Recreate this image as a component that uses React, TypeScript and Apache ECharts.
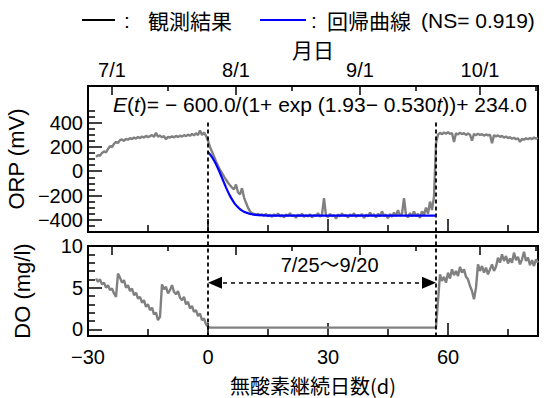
import React, { useEffect, useRef } from "react";
import * as echarts from "echarts";

const FONT = "'Liberation Sans', Arial, 'Noto Sans CJK JP', sans-serif";
const CJK = "'Noto Sans CJK JP', 'Liberation Sans', sans-serif";

const DAY_MIN = -30;
const DAY_MAX = 82.5;
const dayLabelValues = [-30, 0, 30, 60];
const dayMajorTicks = [-30, 0, 30, 60];
const dayMinorTicks = [-15, 15, 45, 75];
const monthMajorDays = [-24, 7, 38, 68];
const monthLabels = ["7/1", "8/1", "9/1", "10/1"];
const monthMinorDays = [-10, 21, 52, 82];

const ORP_MIN = -500;
const ORP_MAX = 700;
const orpLabelValues = [-400, -200, 0, 200, 400];
const orpMinorValues = [-450, -350, -300, -250, -150, -100, -50, 50, 100, 150, 250, 300, 350, 450, 500];

const DO_MIN = -0.8;
const DO_MAX = 10;
const doLabelValues = [0, 5, 10];
const doMinorValues = [1, 2, 3, 4, 6, 7, 8, 9];

const anoxicStartDay = 0;
const anoxicEndDay = 57;
const dottedTopORP = 400;
const arrowFromDay = 1.75;
const arrowToDay = 55.25;
const arrowDO = 5.6;
const periodLabel = "7/25～9/20";
const periodLabelDay = 30.4;
const periodLabelDO = 7.7;

const orpObserved: number[][] = [
  [-28, 118], [-27.5, 132], [-27, 126], [-26.5, 150], [-26, 162], [-25.5, 155], [-25, 182], [-24.5, 205], [-24, 198],
  [-23.5, 225], [-23, 240], [-22.5, 232], [-22, 255], [-21.5, 262], [-21, 248], [-20.5, 266], [-20, 258],
  [-19.5, 272], [-19, 264], [-18.5, 276], [-18, 268], [-17.5, 281], [-17, 272], [-16.5, 285], [-16, 276],
  [-15.5, 290], [-15, 280], [-14.5, 288], [-14, 296], [-13.5, 282], [-13, 315], [-12.5, 284], [-12, 292],
  [-11.5, 278], [-11, 288], [-10.5, 262], [-10, 282], [-9.5, 276], [-9, 286], [-8.5, 278], [-8, 290],
  [-7.5, 281], [-7, 292], [-6.5, 284], [-6, 296], [-5.5, 288], [-5, 300], [-4.5, 291], [-4, 306],
  [-3.5, 294], [-3, 312], [-2.5, 296], [-2, 335], [-1.5, 298], [-1, 318], [-0.5, 290], [0, 250],
  [0.5, 200], [1, 160], [1.5, 120], [2, 80], [2.5, 45], [3, 10], [3.5, -15], [4, -45],
  [4.5, -70], [5, -95], [5.5, -115], [6, -135], [6.5, -150], [7, -110], [7.5, -175], [8, -190],
  [8.5, -140], [9, -215], [9.5, -260], [10, -300], [10.5, -330], [11, -345], [11.5, -352], [12, -358],
  [12.5, -350], [13, -362], [13.5, -355], [14, -366],
  [14.5, -352], [15, -370], [15.5, -358], [16, -375], [16.5, -355], [17, -368], [17.5, -348], [18, -372],
  [18.5, -360], [19, -380], [19.5, -356], [20, -366], [20.5, -345], [21, -370], [21.5, -362], [22, -384],
  [22.5, -358], [23, -368], [23.5, -350], [24, -376], [24.5, -362], [25, -372], [25.5, -354], [26, -380],
  [26.5, -360], [27, -368], [27.5, -345], [28, -374], [28.5, -358], [29, -222], [29.5, -365], [30, -378],
  [30.5, -352], [31, -370], [31.5, -360], [32, -390], [32.5, -356], [33, -372], [33.5, -348], [34, -366],
  [34.5, -360], [35, -382], [35.5, -354], [36, -370], [36.5, -346], [37, -376], [37.5, -360], [38, -368],
  [38.5, -352], [39, -385], [39.5, -358], [40, -372], [40.5, -340], [41, -366], [41.5, -355], [42, -380],
  [42.5, -350], [43, -372], [43.5, -330], [44, -368], [44.5, -356], [45, -388], [45.5, -352], [46, -374],
  [46.5, -340], [47, -370], [47.5, -320], [48, -366], [48.5, -350], [49, -222], [49.5, -362], [50, -378],
  [50.5, -345], [51, -372], [51.5, -332], [52, -370], [52.5, -350], [53, -384], [53.5, -330], [54, -360],
  [54.5, -300], [55, -350], [55.5, -250], [56, -320], [56.5, -210], [57, 230], [57.5, 300], [58, 315],
  [58.5, 304], [59, 318], [59.5, 308], [60, 320], [60.5, 306], [61, 314], [61.5, 240], [62, 312],
  [62.5, 302], [63, 316], [63.5, 305], [64, 312], [64.5, 298], [65, 310], [65.5, 300], [66, 250],
  [66.5, 306], [67, 296], [67.5, 308], [68, 298], [68.5, 304], [69, 292], [69.5, 302], [70, 294],
  [70.5, 300], [71, 230], [71.5, 296], [72, 286], [72.5, 294], [73, 282], [73.5, 290], [74, 276],
  [74.5, 285], [75, 272], [75.5, 280], [76, 266], [76.5, 275], [77, 262], [77.5, 270], [78, 240],
  [78.5, 266], [79, 258], [79.5, 270], [80, 262], [80.5, 272], [81, 264], [81.5, 276], [82, 268], [82.5, 274],
];

const orpRegression: number[][] = [
  [0, 158], [0.5, 138.5], [1, 115], [1.5, 88], [2, 57], [2.5, 22], [3, -15.5], [3.5, -55], [4, -94],
  [4.5, -133], [5, -170], [5.5, -203], [6, -232], [6.5, -258], [7, -279], [7.5, -297], [8, -312],
  [8.5, -324], [9, -333], [9.5, -340], [10, -346], [10.5, -351], [11, -354], [11.5, -357], [12, -359],
  [13, -362], [14, -363.5], [15, -364.6], [16, -365], [18, -365.6], [20, -365.8], [56.8, -366],
];

const doObserved: number[][] = [
  [-28, 6.1], [-27.5, 5.7], [-27, 6.0], [-26.5, 5.4], [-26, 5.6], [-25.5, 5.0], [-25, 5.3], [-24.5, 4.7],
  [-24, 4.9], [-23.5, 4.3], [-23, 3.9], [-22.5, 6.7], [-22, 6.2], [-21.5, 5.6], [-21, 5.9], [-20.5, 5.0],
  [-20, 5.3], [-19.5, 4.6], [-19, 4.9], [-18.5, 4.1], [-18, 4.4], [-17.5, 3.7], [-17, 3.9], [-16.5, 3.2],
  [-16, 3.5], [-15.5, 2.7], [-15, 3.0], [-14.5, 2.3], [-14, 2.6], [-13.5, 1.8], [-13, 2.0], [-12.5, 1.1],
  [-12, 1.5], [-11.5, 5.4], [-11, 4.8], [-10.5, 5.1], [-10, 4.3], [-9.5, 4.7], [-9, 5.3], [-8.5, 4.5],
  [-8, 4.2], [-7.5, 4.6], [-7, 3.8], [-6.5, 3.5], [-6, 3.9], [-5.5, 3.0], [-5, 3.3], [-4.5, 2.5],
  [-4, 2.8], [-3.5, 2.1], [-3, 2.3], [-2.5, 1.6], [-2, 1.9], [-1.5, 1.1], [-1, 1.3], [-0.5, 0.6],
  [0, 0.3], [0.5, 0.2], [56.5, 0.2], [57, 0.3],
  [57.5, 3.4], [58, 6.6], [58.5, 5.8], [59, 6.3], [59.5, 5.6], [60, 6.8], [60.5, 6.1], [61, 7.2],
  [61.5, 6.5], [62, 7.0], [62.5, 6.4], [63, 7.5], [63.5, 6.8], [64, 7.2], [64.5, 6.3], [65, 6.0],
  [65.5, 5.2], [66, 4.6], [66.5, 3.6], [67, 5.0], [67.5, 7.8], [68, 7.0], [68.5, 7.6], [69, 6.8],
  [69.5, 7.4], [70, 6.6], [70.5, 7.2], [71, 7.8], [71.5, 7.0], [72, 7.5], [72.5, 8.6], [73, 8.0],
  [73.5, 9.0], [74, 8.2], [74.5, 8.8], [75, 7.9], [75.5, 8.5], [76, 8.0], [76.5, 9.2], [77, 8.3],
  [77.5, 8.7], [78, 7.8], [78.5, 8.4], [79, 9.3], [79.5, 8.2], [80, 8.6], [80.5, 7.7], [81, 8.3],
  [81.5, 7.6], [82, 8.4], [82.5, 8.0],
];

const GRAY = "#808080";
const fmtNum = (v: number) => (v < 0 ? "\u2212" + Math.abs(v) : String(v));
const tickLine = { color: "#000", width: 1.5 };
const labelStyle = { fontSize: 20, lineHeight: 20, color: "#000", fontFamily: FONT };

function customAxis(kind: "x" | "y", gridIndex: number, position: string, min: number, max: number,
  ticks: number[], length: number, labels: number[] | null, formatter: any, margin: number, extra: any = {}) {
  return {
    type: "value", gridIndex, position, min, max,
    axisLine: { show: false, onZero: false },
    axisTick: { show: true, inside: true, length, lineStyle: tickLine, customValues: ticks },
    axisLabel: labels
      ? { show: true, customValues: labels, formatter, margin, ...labelStyle }
      : { show: false },
    splitLine: { show: false },
    ...extra,
  };
}

export default function App() {
  const ref = useRef<HTMLDivElement>(null);
  useEffect(() => {
    if (!ref.current) return;
    const chart = echarts.init(ref.current, undefined, { renderer: "svg" });
    const monthFmt = (v: number) => {
      const i = monthMajorDays.indexOf(v);
      return i >= 0 ? monthLabels[i] : "";
    };
    const gridBase = {
      left: 88, right: 6, show: true, borderColor: "#000", borderWidth: 2,
      backgroundColor: "transparent", containLabel: false, outerBoundsMode: "none",
    };
    const option: any = {
      animation: false,
      grid: [
        { ...gridBase, top: 86, height: 146 },
        { ...gridBase, top: 246, height: 90 },
      ],
      xAxis: [
        customAxis("x", 0, "bottom", DAY_MIN, DAY_MAX, dayMajorTicks, 13, null, null, 0),
        customAxis("x", 0, "bottom", DAY_MIN, DAY_MAX, dayMinorTicks, 7, null, null, 0),
        customAxis("x", 0, "top", DAY_MIN, DAY_MAX, monthMajorDays, 9, monthMajorDays, monthFmt, 6, {
          name: "月日", nameLocation: "middle", nameGap: 22,
          nameTextStyle: { fontSize: 21, color: "#000", fontFamily: CJK },
        }),
        customAxis("x", 0, "top", DAY_MIN, DAY_MAX, monthMinorDays, 5, null, null, 0),
        customAxis("x", 1, "bottom", DAY_MIN, DAY_MAX, dayMajorTicks, 13, dayLabelValues, fmtNum, 11, {
          name: "無酸素継続日数(d)", nameLocation: "middle", nameGap: 38,
          nameTextStyle: { fontSize: 20, lineHeight: 22, color: "#000", fontFamily: CJK },
        }),
        customAxis("x", 1, "bottom", DAY_MIN, DAY_MAX, dayMinorTicks, 7, null, null, 0),
        customAxis("x", 1, "top", DAY_MIN, DAY_MAX, monthMajorDays, 9, null, null, 0),
        customAxis("x", 1, "top", DAY_MIN, DAY_MAX, monthMinorDays, 5, null, null, 0),
      ],
      yAxis: [
        customAxis("y", 0, "left", ORP_MIN, ORP_MAX, orpLabelValues, 14, orpLabelValues, fmtNum, 5, {
          name: "ORP (mV)", nameLocation: "middle", nameGap: 55, nameRotate: 90,
          nameTextStyle: { fontSize: 22, color: "#000", fontFamily: FONT },
        }),
        customAxis("y", 0, "left", ORP_MIN, ORP_MAX, orpMinorValues, 7, null, null, 0),
        customAxis("y", 1, "left", DO_MIN, DO_MAX, doLabelValues, 14, doLabelValues, fmtNum, 5, {
          name: "DO (mg/l)", nameLocation: "middle", nameGap: 55, nameRotate: 90,
          nameTextStyle: { fontSize: 22, color: "#000", fontFamily: FONT },
        }),
        customAxis("y", 1, "left", DO_MIN, DO_MAX, doMinorValues, 7, null, null, 0),
      ],
      series: [
        {
          name: "観測結果", type: "line", xAxisIndex: 0, yAxisIndex: 0, data: orpObserved,
          showSymbol: false, symbol: "none", lineStyle: { color: GRAY, width: 2.4 }, z: 2,
        },
        {
          name: "回帰曲線", type: "line", xAxisIndex: 0, yAxisIndex: 0, data: orpRegression,
          showSymbol: false, symbol: "none", smooth: 0.3, lineStyle: { color: "#0000ff", width: 2.2 }, z: 3,
        },
        {
          name: "DO", type: "line", xAxisIndex: 4, yAxisIndex: 2, data: doObserved,
          showSymbol: false, symbol: "none", lineStyle: { color: GRAY, width: 2.4 }, z: 2,
          markLine: {
            silent: true,
            symbol: ["triangle", "triangle"],
            symbolSize: [12, 14],
            label: { show: false },
            lineStyle: { color: "#000", width: 1.5, type: [4, 4] },
            data: [[{ coord: [arrowFromDay, arrowDO] }, { coord: [arrowToDay, arrowDO] }]],
          },
        },
      ],
    };
    chart.setOption(option);

    const top0 = chart.convertToPixel({ seriesIndex: 0 }, [anoxicStartDay, dottedTopORP]) as number[];
    const bot0 = chart.convertToPixel({ seriesIndex: 2 }, [anoxicStartDay, DO_MIN]) as number[];
    const top1 = chart.convertToPixel({ seriesIndex: 0 }, [anoxicEndDay, dottedTopORP]) as number[];
    const bot1 = chart.convertToPixel({ seriesIndex: 2 }, [anoxicEndDay, DO_MIN]) as number[];
    const lbl = chart.convertToPixel({ seriesIndex: 2 }, [periodLabelDay, periodLabelDO]) as number[];

    const dotted = { stroke: "#000", lineWidth: 1.8, lineDash: [4, 3] };
    chart.setOption({
      graphic: [
        { type: "line", z: 10, shape: { x1: top0[0], y1: top0[1], x2: bot0[0], y2: bot0[1] }, style: dotted },
        { type: "line", z: 10, shape: { x1: top1[0], y1: top1[1], x2: bot1[0], y2: bot1[1] }, style: dotted },
        {
          type: "text", z: 10, x: lbl[0], y: lbl[1],
          style: { text: periodLabel, fill: "#000", fontSize: 20, fontFamily: FONT, align: "center", verticalAlign: "middle" },
        },
        { type: "line", shape: { x1: 82, y1: 20, x2: 115, y2: 20 }, style: { stroke: "#000", lineWidth: 2 } },
        { type: "text", x: 124, y: 20, style: { text: ":", fill: "#000", fontSize: 21, fontFamily: FONT, verticalAlign: "middle" } },
        { type: "text", x: 148, y: 20, style: { text: "観測結果", fill: "#000", fontSize: 21, fontFamily: CJK, verticalAlign: "middle" } },
        { type: "line", shape: { x1: 260, y1: 20, x2: 306, y2: 20 }, style: { stroke: "#0000ff", lineWidth: 2 } },
        { type: "text", x: 311, y: 20, style: { text: ":", fill: "#000", fontSize: 21, fontFamily: FONT, verticalAlign: "middle" } },
        { type: "text", x: 327, y: 20, style: { text: "回帰曲線", fill: "#000", fontSize: 21, fontFamily: CJK, verticalAlign: "middle" } },
        { type: "text", x: 421, y: 20, style: { text: "(NS= 0.919)", fill: "#000", fontSize: 21, fontFamily: FONT, verticalAlign: "middle" } },
        {
          type: "text", x: 113, y: 104, z: 10,
          style: {
            text: "{i|E}({i|t})= \u2212 600.0/(1+ exp (1.93\u2212 0.530{i|t}))+ 234.0",
            fill: "#000", fontSize: 21, fontFamily: FONT, verticalAlign: "middle",
            rich: { i: { fontStyle: "italic", fontSize: 21, fontFamily: FONT, fill: "#000" } },
          },
        },
      ],
    });

    return () => chart.dispose();
  }, []);
  return <div ref={ref} style={{ position: "absolute", left: 0, top: 0, width: 544, height: 398, background: "#fff" }} />;
}
